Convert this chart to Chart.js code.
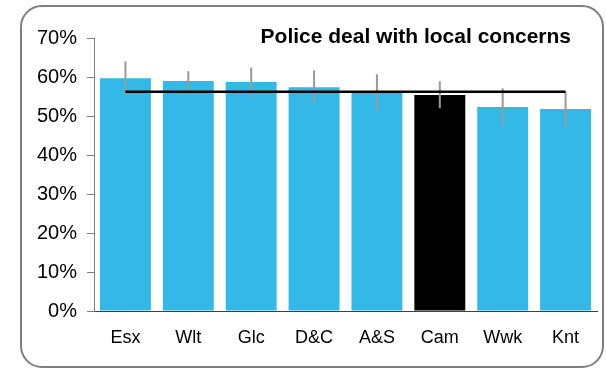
<!DOCTYPE html>
<html>
  <head>
    <title>Police deal with local concerns</title>
    <script src="https://cdn.jsdelivr.net/npm/chart.js"></script>
    <style>
      body { margin: 0; background: #fff; }
      .wrap { position: relative; width: 606px; height: 371px; }
      .frame {
        position: absolute; left: 20px; top: 5px; width: 580px; height: 359px;
        border: 2.5px solid #7f7f7f; border-radius: 22px;
      }
      canvas { position: absolute; left: 0; top: 0; }
    </style>
  </head>

  <body>
    <div class="wrap">
      <div class="frame"></div>
      <canvas id="grafico" width="606" height="371"></canvas>
    </div>

    <script>
      // valores (%)
      var forcas = ["Esx", "Wlt", "Glc", "D&C", "A&S", "Cam", "Wwk", "Knt"];
      var valores = [59.7, 59.0, 58.7, 57.4, 56.1, 55.4, 52.3, 51.8];
      var erroBaixo = [55.4, 56.2, 54.8, 53.3, 51.5, 52.0, 47.5, 47.0];
      var erroAlto = [64.0, 61.5, 62.4, 61.7, 60.7, 58.9, 57.1, 56.2];
      var media = 56.2;
      var titulo = "Police deal with local concerns";

      var azul = "#33b8e8";
      var cores = forcas.map((f) => (f == "Cam" ? "#000000" : azul));
      var fonte = "'Liberation Sans', Arial, sans-serif";

      var barrasErro = {
        id: "barrasErro",
        afterDatasetDraw(chart, args) {
          if (args.index !== 0) return;
          var ctx = chart.ctx;
          var y = chart.scales.y;
          var meta = chart.getDatasetMeta(0);
          ctx.save();
          ctx.strokeStyle = "#999999";
          ctx.lineWidth = 2;
          meta.data.forEach((barra, i) => {
            ctx.beginPath();
            ctx.moveTo(barra.x, y.getPixelForValue(erroBaixo[i]));
            ctx.lineTo(barra.x, y.getPixelForValue(erroAlto[i]));
            ctx.stroke();
          });
          ctx.restore();
        },
        afterDraw(chart) {
          var ctx = chart.ctx;
          ctx.save();
          ctx.font = "bold 21px " + fonte;
          ctx.fillStyle = "#000";
          ctx.textAlign = "right";
          ctx.textBaseline = "alphabetic";
          ctx.fillText(titulo, chart.chartArea.right - 26, chart.chartArea.top + 5);
          ctx.restore();
        },
      };

      new Chart(document.getElementById("grafico").getContext("2d"), {
        type: "bar",
        data: {
          labels: forcas,
          datasets: [
            {
              type: "bar",
              data: valores,
              backgroundColor: cores,
              categoryPercentage: 1,
              barPercentage: 0.81,
              order: 1,
            },
            {
              type: "line",
              data: forcas.map(() => media),
              borderColor: "#000",
              borderWidth: 2.5,
              pointRadius: 0,
              fill: false,
              order: 0,
            },
          ],
        },
        options: {
          responsive: false,
          animation: false,
          layout: { padding: { top: 38, right: 9, left: 0, bottom: 0 } },
          plugins: {
            legend: { display: false },
            tooltip: { enabled: false },
          },
          scales: {
            x: {
              afterFit: (s) => { s.height = 60; },
              grid: { display: false, drawTicks: false },
              border: { display: true, color: "#404040", width: 1 },
              ticks: { color: "#000", padding: 16, font: { family: fonte, size: 18 } },
            },
            y: {
              min: 0,
              max: 70,
              afterFit: (s) => { s.width = 94; },
              grid: { drawOnChartArea: false, drawTicks: true, tickLength: 7, color: "#808080" },
              border: { display: true, color: "#808080", width: 1 },
              ticks: {
                stepSize: 10,
                color: "#000",
                padding: 10,
                font: { family: fonte, size: 20 },
                callback: (v) => v + "%",
              },
            },
          },
        },
        plugins: [barrasErro],
      });
    </script>
  </body>
</html>
